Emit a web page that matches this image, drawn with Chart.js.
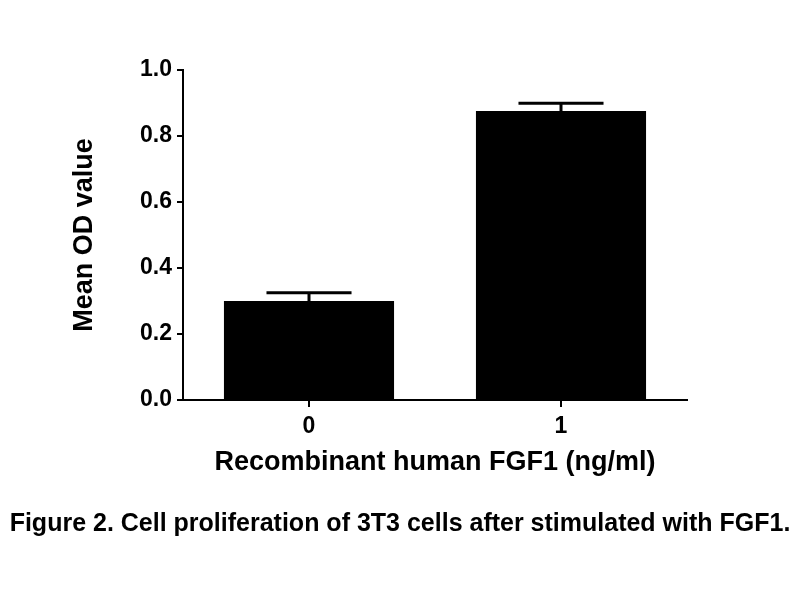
<!DOCTYPE html>
<html>
<head>
<meta charset="utf-8">
<script src="https://cdn.jsdelivr.net/npm/chart.js@4"></script>
<style>
  html, body { margin: 0; padding: 0; background: #fff; }
  #wrap { width: 800px; height: 600px; }
</style>
</head>
<body>
<div id="wrap"><canvas id="myChart" width="800" height="600"></canvas></div>
<script>
const categories = ["0", "1"];
const meanOD = [0.3, 0.876];
const errorSEM = [0.025, 0.023];
const yTicks = [0, 0.2, 0.4, 0.6, 0.8, 1.0];

const FONT = "'Liberation Sans', Arial, sans-serif";

// draws the upper error bars (stem + cap) on each bar
const errorBars = {
  id: "errorBars",
  afterDatasetsDraw(chart) {
    const ctx = chart.ctx;
    const yScale = chart.scales.y;
    const meta = chart.getDatasetMeta(0);
    ctx.save();
    ctx.strokeStyle = "#000";
    ctx.lineWidth = 3;
    meta.data.forEach((bar, i) => {
      const top = yScale.getPixelForValue(meanOD[i] + errorSEM[i]);
      const half = bar.width / 4;
      ctx.beginPath();
      ctx.moveTo(bar.x, bar.y);
      ctx.lineTo(bar.x, top);
      ctx.moveTo(bar.x - half, top);
      ctx.lineTo(bar.x + half, top);
      ctx.stroke();
    });
    ctx.restore();
  },
};

const ctx = document.getElementById("myChart");

new Chart(ctx, {
  type: "bar",
  data: {
    labels: categories,
    datasets: [
      {
        data: meanOD,
        backgroundColor: "#000",
        borderWidth: 0,
        barPercentage: 0.675,
        categoryPercentage: 1,
      },
    ],
  },
  options: {
    responsive: false,
    animation: false,
    layout: { padding: { top: 70, right: 0, left: 0, bottom: 51 } },
    plugins: {
      legend: { display: false },
      tooltip: { enabled: false },
      title: {
        display: true,
        position: "bottom",
        text: "Figure 2. Cell proliferation of 3T3 cells after stimulated with FGF1.",
        color: "#000",
        font: { family: FONT, size: 25, weight: "bold" },
        padding: { top: 19, bottom: 10 },
      },
    },
    scales: {
      x: {
        afterFit(scale) {
          scale.height = 90;
        },
        grid: {
          offset: false,
          drawOnChartArea: false,
          drawTicks: true,
          tickLength: 7,
          color: "#000",
          lineWidth: 2,
        },
        border: { display: true, color: "#000", width: 2 },
        ticks: {
          color: "#000",
          padding: 6,
          font: { family: FONT, size: 23, weight: "bold" },
        },
        title: {
          display: true,
          text: "Recombinant human FGF1 (ng/ml)",
          color: "#000",
          font: { family: FONT, size: 27, weight: "bold" },
          padding: { top: 0, bottom: 11 },
        },
      },
      y: {
        min: 0,
        max: 1,
        afterFit(scale) {
          scale.width = 183;
        },
        afterBuildTicks(scale) {
          scale.ticks = yTicks.map((v) => ({ value: v }));
        },
        grid: {
          drawOnChartArea: false,
          drawTicks: true,
          tickLength: 6,
          color: "#000",
          lineWidth: 2,
        },
        border: { display: true, color: "#000", width: 2 },
        ticks: {
          color: "#000",
          padding: 5,
          font: { family: FONT, size: 23, weight: "bold" },
          callback: (v) => Number(v).toFixed(1),
        },
        title: {
          display: true,
          text: "Mean OD value",
          color: "#000",
          font: { family: FONT, size: 27, weight: "bold" },
          padding: { top: 68, bottom: 0 },
        },
      },
      // empty right-hand spacer so the plot ends where the reference does
      spacer: {
        type: "linear",
        position: "right",
        afterFit(scale) {
          scale.width = 113;
        },
        grid: { display: false },
        border: { display: false },
        ticks: { display: false },
      },
    },
  },
  plugins: [errorBars],
});
</script>
</body>
</html>
